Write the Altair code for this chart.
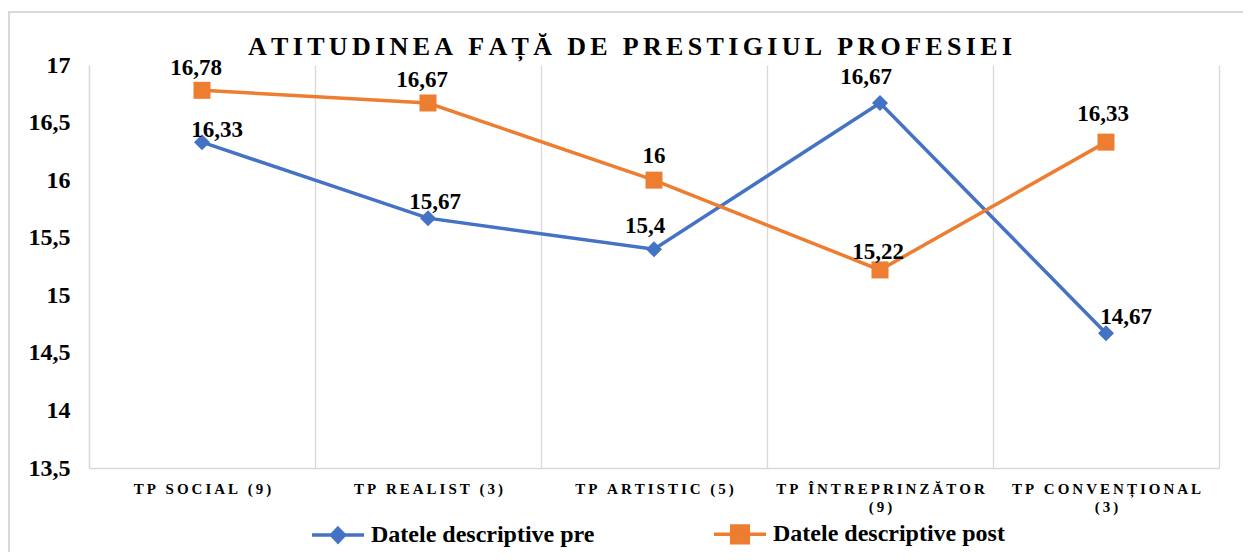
import json
import altair as alt
import pandas as pd

# ---------------- data ----------------
categories = ["TP SOCIAL (9)", "TP REALIST (3)", "TP ARTISTIC (5)",
              "TP ÎNTREPRINZĂTOR (9)", "TP CONVENȚIONAL (3)"]
tick_label_lines = [["TP SOCIAL (9)"], ["TP REALIST (3)"], ["TP ARTISTIC (5)"],
                    ["TP ÎNTREPRINZĂTOR", "(9)"], ["TP CONVENȚIONAL", "(3)"]]
series_names = ["Datele descriptive pre", "Datele descriptive post"]
pre_values = [16.33, 15.67, 15.4, 16.67, 14.67]
post_values = [16.78, 16.67, 16.0, 15.22, 16.33]
y_ticks = [13.5, 14, 14.5, 15, 15.5, 16, 16.5, 17]
title_text = "ATITUDINEA FAȚĂ DE PRESTIGIUL PROFESIEI"

# ---------------- style ----------------
FONT = "Liberation Serif"
BLUE = "#4472C4"
ORANGE = "#ED7D31"
GRAY = "#D9D9D9"
series_colors = [BLUE, ORANGE]
# label nudges (dx, dy) in pixels, per series / category
label_nudges = {
    series_names[0]: [(15, -12), (7, -16), (-9, -23), (-14, -26), (20, -16)],
    series_names[1]: [(-6, -22), (-6, -23), (0, -24), (-2, -18), (-3, -28)],
}

rows = []
for s, vals in zip(series_names, [pre_values, post_values]):
    for c, v in zip(categories, vals):
        rows.append({"cat": c, "series": s, "value": v})
df = pd.DataFrame(rows)

SP = "\u2009"
def spaced(t):
    return SP.join(t)

# labelExpr mapping category -> spaced, possibly multi-line label
expr = "datum.label"
for c, lines in reversed(list(zip(categories, tick_label_lines))):
    arr = json.dumps([spaced(l) for l in lines], ensure_ascii=False)
    expr = f"datum.label == {json.dumps(c, ensure_ascii=False)} ? {arr} : ({expr})"

x_enc = alt.X(
    "cat:N", sort=categories, title=None,
    scale=alt.Scale(type="band", paddingInner=0, paddingOuter=0),
    axis=alt.Axis(
        labelExpr=expr, labelAngle=0, labelFont=FONT, labelFontSize=15,
        labelFontWeight="bold", labelColor="black", labelPadding=13,
        labelBaseline="top", labelLineHeight=18, labelLimit=0,
        labelOverlap=False, labelBound=False,
        ticks=False, tickBand="extent", grid=True, gridColor=GRAY, gridWidth=1.3,
        domainColor=GRAY, domainWidth=1.3,
    ),
)
y_enc = alt.Y(
    "value:Q", scale=alt.Scale(domain=[13.5, 17], nice=False, zero=False), title=None,
    axis=alt.Axis(
        values=y_ticks, labelExpr="replace(toString(datum.value), '.', ',')",
        labelFont=FONT, labelFontSize=24, labelFontWeight="bold", labelColor="black",
        labelPadding=19, ticks=False, grid=False, domainColor=GRAY, domainWidth=1.3,
    ),
)

diamond_path = "M-1,0L1,0M0,-0.26L0.25,0L0,0.26L-0.25,0Z"
square_path = "M-1,0L1,0M-0.32,-0.32L0.32,-0.32L0.32,0.32L-0.32,0.32Z"
pre_name = series_names[0]

base = alt.Chart(df)

lines = base.mark_line(strokeWidth=3.5).encode(
    x=x_enc, y=y_enc,
    color=alt.Color(
        "series:N",
        scale=alt.Scale(domain=series_names, range=series_colors),
        legend=alt.Legend(
            title=None, orient="none", legendX=221, legendY=441,
            direction="horizontal", padding=0,
            symbolType=alt.ExprRef(expr=f"datum.value == '{pre_name}' ? '{diamond_path}' : '{square_path}'"),
            symbolFillColor=alt.ExprRef(expr=f"datum.value == '{pre_name}' ? '{BLUE}' : '{ORANGE}'"),
            symbolSize=2704, symbolStrokeWidth=3.5,
            labelFont=FONT, labelFontSize=24, labelFontWeight="bold", labelColor="black",
            labelOffset=5, labelLimit=0, columnPadding=112,
        ),
    ),
)

pts_pre = base.transform_filter(alt.datum.series == series_names[0]).mark_point(
    shape="diamond", filled=True, size=256, color=BLUE, opacity=1
).encode(x=x_enc, y=y_enc)
pts_post = base.transform_filter(alt.datum.series == series_names[1]).mark_point(
    shape="square", filled=True, size=289, color=ORANGE, opacity=1
).encode(x=x_enc, y=y_enc)

text_layers = []
for s in series_names:
    for c, (dx, dy) in zip(categories, label_nudges[s]):
        t = base.transform_filter(
            (alt.datum.series == s) & (alt.datum.cat == c)
        ).transform_calculate(
            lbl="replace(toString(datum.value), '.', ',')"
        ).mark_text(
            font=FONT, fontSize=23, fontWeight="bold", color="black",
            baseline="middle", align="center", dx=dx, dy=dy,
        ).encode(x=x_enc, y=y_enc, text="lbl:N")
        text_layers.append(t)

frame_data = alt.Data(values=[{"k": 1}])
frame_top = alt.Chart(frame_data).mark_rule(color=GRAY, strokeWidth=2).encode(
    x=alt.value(-81), x2=alt.value(1200), y=alt.value(-53))
frame_left = alt.Chart(frame_data).mark_rule(color=GRAY, strokeWidth=2).encode(
    x=alt.value(-80), y=alt.value(-53), y2=alt.value(520))

chart = alt.layer(
    frame_top, frame_left, lines, pts_pre, pts_post, *text_layers
).properties(
    width=1130, height=403,
    background="white",
    padding={"left": 81, "top": 57, "right": 24, "bottom": 84},
    autosize=alt.AutoSizeParams(type="none"),
    title=alt.TitleParams(
        text="\u2006".join(title_text), font=FONT, fontSize=26, fontWeight="bold",
        color="black", anchor="middle", dx=-24, offset=-70, baseline="alphabetic",
    ),
).configure_view(stroke=None)

chart.save("out.html", embed_options={"renderer": "svg", "actions": False})
